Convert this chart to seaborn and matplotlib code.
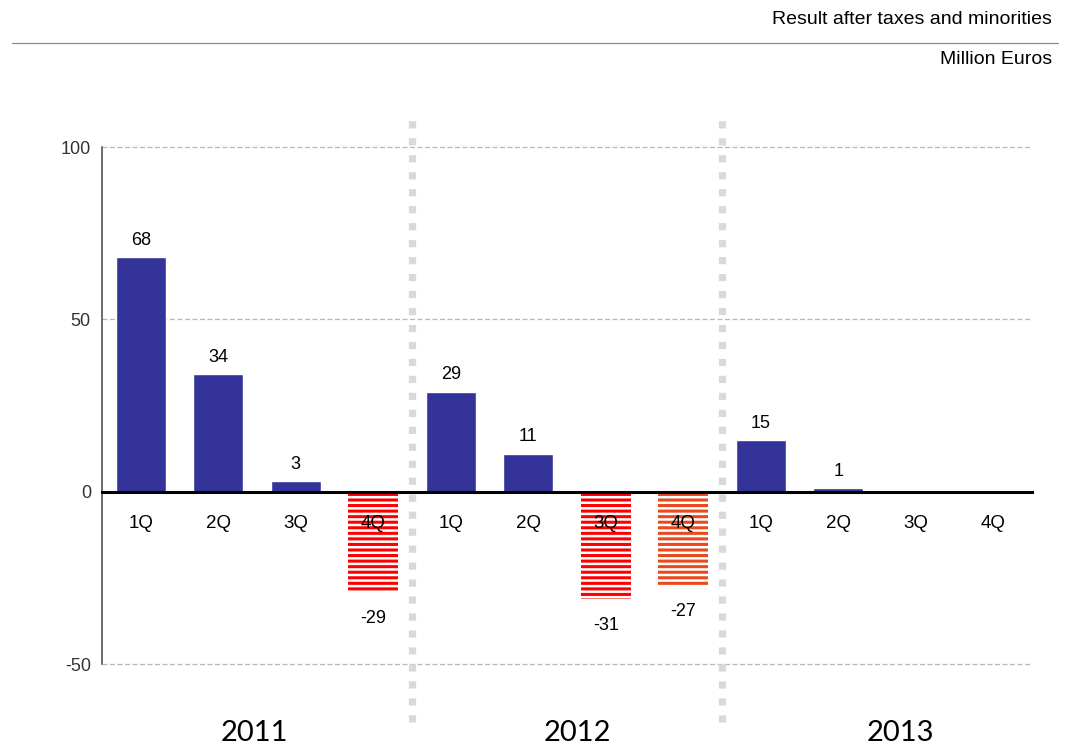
import numpy as np
import pandas as pd
import matplotlib
matplotlib.use("Agg")
import matplotlib.pyplot as plt
import seaborn as sns
from matplotlib.lines import Line2D
from matplotlib.ticker import FixedLocator
import matplotlib.transforms as mtransforms

years = ["2011", "2012", "2013"]
quarters = ["1Q", "2Q", "3Q", "4Q"]
values = [68, 34, 3, -29, 29, 11, -31, -27, 15, 1, np.nan, np.nan]
bar_colors = ["#333399", "#333399", "#333399", "#FF0000",
              "#333399", "#333399", "#FF0000", "#E8491D",
              "#333399", "#333399", "#333399", "#333399"]
year_label_x = [1.47, 5.64, 9.8]

sns.set_style("white")
plt.rcParams["font.family"] = ["Liberation Sans", "DejaVu Sans"]
plt.rcParams["hatch.linewidth"] = 1.8
plt.rcParams["axes.unicode_minus"] = False
plt.rcParams["text.color"] = "black"

narrow = ["Liberation Sans Narrow", "Liberation Sans"]

keys = [f"{y} {q}" for y in years for q in quarters]
df = pd.DataFrame({"key": keys, "value": values})

fig = plt.figure(figsize=(10.66, 7.52), dpi=100)
ax = fig.add_axes([0.0957, 0.117, 0.8724, 0.6875])

sns.barplot(
    data=df,
    x="key",
    y="value",
    hue="key",
    palette=bar_colors,
    legend=False,
    width=0.65,
    saturation=1,
    ax=ax
)

# striped negative bars
for bar, v in zip(ax.patches, values):
    if not np.isnan(v) and v < 0:
        bar.set_hatch("---")
        bar.set_edgecolor("white")
        bar.set_linewidth(0)

ax.set_axisbelow(False)
ax.set_xlim(-0.5, len(keys) - 0.5)
ax.set_ylim(-50, 100)
ax.set_yticks([-50, 0, 50, 100])
ax.set_xlabel("")
ax.set_ylabel("")

# grid
for yv in [-50, 50, 100]:
    ax.axhline(yv, color="#b8b8b8", lw=0.9, ls=(0, (4, 2)), zorder=0, clip_on=False)

# spines
for s in ["top", "right"]:
    ax.spines[s].set_visible(False)
ax.spines["left"].set_color("#444444")
ax.spines["left"].set_linewidth(1.1)
ax.spines["bottom"].set_position(("data", 0))
ax.spines["bottom"].set_color("black")
ax.spines["bottom"].set_linewidth(2.2)

ax.tick_params(axis="y", direction="out", length=5, width=1.2,
               color="#444444", labelsize=13, labelcolor="#333333", pad=3)

ax.set_xticks(range(len(keys)))
ax.set_xticklabels(quarters * len(years), fontfamily=narrow)
ax.xaxis.set_minor_locator(FixedLocator(np.arange(-0.5, len(keys), 1.0)))
ax.tick_params(axis="x", which="major", length=0, pad=16.5, labelsize=13.5,
               labelcolor="black")
ax.tick_params(axis="x", which="minor", direction="out", length=4.5,
               width=2, color="black")

# value labels
for i, v in enumerate(values):
    if np.isnan(v):
        continue
    if v >= 0:
        ax.annotate(f"{v:g}", (i, v), xytext=(0, 6), textcoords="offset points",
                    ha="center", va="bottom", fontsize=13, fontfamily=narrow)
    else:
        ax.annotate(f"{v:g}", (i, v), xytext=(0, -13), textcoords="offset points",
                    ha="center", va="top", fontsize=13, fontfamily=narrow)

# year dividers
for k in range(1, len(years)):
    ax.axvline(k * len(quarters) - 0.5, ymin=-0.112, ymax=1.062, clip_on=False,
               color="#d9d9d9", lw=5.2, ls=(0, (1, 1.35)),
               dash_capstyle="butt", zorder=0)

# year labels
trans = mtransforms.blended_transform_factory(ax.transData, ax.transAxes)
for x, y in zip(year_label_x, years):
    ax.text(x, -0.133, y, transform=trans, ha="center", va="center",
            fontsize=21, fontfamily=["Lato", "DejaVu Sans"], color="black")

# header
fig.text(1052 / 1066, 1 - 20 / 752, "Result after taxes and minorities",
         ha="right", va="center", fontsize=14, fontfamily=narrow)
fig.text(1052 / 1066, 1 - 59 / 752, "Million Euros",
         ha="right", va="center", fontsize=14, fontfamily=narrow)
fig.add_artist(Line2D([12 / 1066, 1058 / 1066], [1 - 43 / 752, 1 - 43 / 752],
                      transform=fig.transFigure, color="#8c8c8c", lw=0.9))

fig.savefig("out.png", dpi=100)
